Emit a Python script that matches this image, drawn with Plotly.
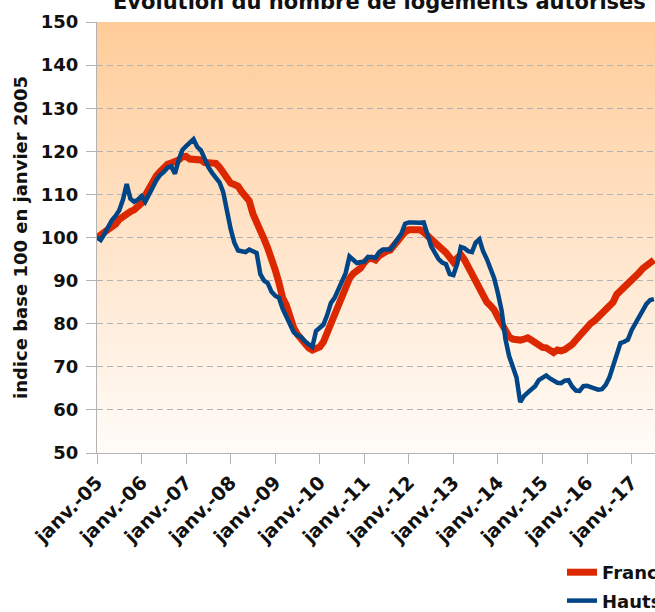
import base64
import plotly.graph_objects as go

# ---- data (monthly index, January 2005 = 100) ----
tick_labels = ["janv.-05", "janv.-06", "janv.-07", "janv.-08", "janv.-09", "janv.-10",
               "janv.-11", "janv.-12", "janv.-13", "janv.-14", "janv.-15", "janv.-16",
               "janv.-17"]

france = [
    100, 100.6, 101.3, 101.9, 102.5, 103.1, 104.2, 104.9, 105.5, 106, 106.4, 107,          # 2005
    108, 109.8, 111.4, 112.8, 114.3, 115.3, 116.3, 117, 117.3, 117.5, 118, 118.7,          # 2006
    118.8, 118.2, 118.2, 118.4, 118, 117.4, 117.3, 117.3, 117.2, 116.3, 115, 113.3,        # 2007
    112.6, 112.3, 111.9, 110.6, 109.6, 108.5, 105.5, 103.2, 101.5, 99.6, 97.5, 95.5,       # 2008
    92.5, 89.5, 86, 84.3, 81.5, 79, 77.5, 76.3, 75.3, 74.4, 73.9, 74.2,                    # 2009
    74.6, 75.8, 78, 80.3, 82.6, 85, 87, 88.8, 90.5, 91.6, 92.3, 92.9,                      # 2010
    94.2, 95, 95.2, 94.8, 95.8, 96.5, 96.8, 97.1, 98.2, 99.2, 100.4, 101.3,                # 2011
    101.8, 101.8, 101.7, 101.8, 101.2, 100.5, 99.6, 98.6, 97.9, 97.3, 96.5, 95.4,          # 2012
    94.3, 95.2, 96, 94.8, 93.2, 91.5, 89.8, 88, 86.2, 85, 84.2, 83.2,                      # 2013
    81.5, 80, 78.3, 77, 76.4, 76.2, 76.2, 76.4, 76.7, 76.2, 75.6, 74.8,                    # 2014
    74.5, 74.4, 73.6, 73.3, 73.9, 73.7, 74, 74.5, 75.2, 76.2, 77.3, 78.5,                  # 2015
    79.5, 80.1, 80.7, 81.5, 82.8, 83.5, 84, 85, 86.8, 87.6, 88.6, 89.3,                    # 2016
    90, 90.5, 91.8, 92.8, 93.4, 94.2, 94.8,                                                # 2017
]

hauts_de_france = [
    100, 99.4, 100.8, 102.6, 104, 105, 106.3, 108.8, 112.4, 109, 108.3, 108.8,             # 2005
    109.6, 108.3, 110.2, 111.6, 113.3, 114.5, 115.2, 116.2, 116.5, 114.8, 118, 120.3,      # 2006
    121.2, 121.9, 122.8, 121, 120.2, 118.3, 116.3, 115, 113.8, 112.8, 110.5, 105.5,        # 2007
    102, 98.8, 97, 96.8, 96.6, 97.2, 96.8, 96.4, 91.5, 90, 89.4, 87.4,                     # 2008
    86.5, 86, 83.5, 81.5, 79.6, 78, 77.3, 76.9, 75.9, 75.3, 74.6, 78.3,                    # 2009
    79, 79.8, 82, 84.8, 86, 88, 90, 91.8, 95.6, 95, 94.1, 94.3,                            # 2010
    94.4, 95.5, 95.4, 95.3, 96.6, 97.2, 97.2, 97.2, 98.4, 99.7, 100.9, 103.2,              # 2011
    103.5, 103.5, 103.4, 103.4, 103.5, 100.8, 98, 96.5, 95, 94.2, 93.8, 91.5,              # 2012
    91.3, 93.8, 97.8, 97.5, 96.8, 96.6, 98.8, 99.6, 96.8, 95, 92.9, 90.5,                  # 2013
    87, 83, 76.5, 72.5, 70, 67.5, 61.8, 63.2, 64, 64.8, 65.5, 66.9,                        # 2014
    67.6, 68, 67.3, 66.8, 66.3, 66.2, 66.8, 66.9, 65.4, 64.5, 64.4, 65.5,                  # 2015
    65.6, 65.3, 65, 64.7, 64.8, 65.8, 67.5, 70, 72.8, 75.5, 75.8, 76.3,                    # 2016
    78.5, 80, 81.4, 83, 84.6, 85.5, 85.7,                                                  # 2017
]

series_names = ["France", "Hauts-de-France"]
month_index = list(range(len(france)))
tick_positions = month_index[::12][:len(tick_labels)]

FONT = "DejaVu Sans"
GRID = "#B3B3B3"
TXT = "#111111"

# vertical peach -> white gradient for the plot background
svg = ('<svg xmlns="http://www.w3.org/2000/svg" width="10" height="100" preserveAspectRatio="none">'
       '<defs><linearGradient id="g" x1="0" y1="0" x2="0" y2="1">'
       '<stop offset="0" stop-color="#FFCC99"/><stop offset="1" stop-color="#FFFCF9"/>'
       '</linearGradient></defs><rect width="10" height="100" fill="url(#g)"/></svg>')
bg_src = "data:image/svg+xml;base64," + base64.b64encode(svg.encode()).decode()

W, H = 655, 612
L, T, B = 97, 22, 159
plot_h = H - T - B

fig = go.Figure()
fig.add_trace(go.Scatter(x=month_index, y=france, mode="lines", name=series_names[0],
                         legendgroup="a", line=dict(color="#DC2800", width=7)))
fig.add_trace(go.Scatter(x=month_index, y=hauts_de_france, mode="lines", name=series_names[1],
                         legendgroup="b", line=dict(color="#004586", width=4.5)))

fig.update_layout(
    width=W, height=H,
    margin=dict(l=L, r=0, t=T, b=B, autoexpand=False),
    paper_bgcolor="white", plot_bgcolor="rgba(0,0,0,0)",
    font=dict(family=FONT, color=TXT),
    images=[dict(source=bg_src, xref="paper", yref="paper", x=0, y=1, sizex=1, sizey=1,
                 sizing="stretch", layer="below", xanchor="left", yanchor="top")],
    xaxis=dict(range=[0, 150.3], tickmode="array", tickvals=tick_positions, ticktext=tick_labels,
               tickangle=-45, ticks="outside", ticklen=10, tickcolor=GRID, showline=True,
               linecolor=GRID, linewidth=1, showgrid=False, zeroline=False,
               tickfont=dict(family=FONT, size=19, weight="bold", color=TXT)),
    yaxis=dict(range=[50, 150], dtick=10, tick0=50, ticks="outside", ticklen=10, tickcolor=GRID,
               showline=True, linecolor=GRID, linewidth=1, showgrid=True, gridcolor=GRID,
               griddash="6px,4px", gridwidth=1, zeroline=False, ticklabelstandoff=4,
               tickfont=dict(family=FONT, size=18, weight="bold", color=TXT),
               title=dict(text="indice base 100 en janvier 2005", standoff=8,
                          font=dict(family=FONT, size=18, weight="bold", color=TXT))),
    legend=dict(xref="container", yref="container", x=562 / W, y=1 - 554 / H,
                xanchor="left", yanchor="top", orientation="v", tracegroupgap=2,
                bgcolor="rgba(0,0,0,0)",
                font=dict(family=FONT, size=18, weight="bold", color=TXT)),
    annotations=[dict(text="Évolution du nombre de logements autorisés", xref="paper", yref="paper",
                      x=(379 - L) / (W - L), y=(H - B - 16) / plot_h, xanchor="center",
                      yanchor="bottom", showarrow=False,
                      font=dict(family=FONT, size=21, weight="bold", color=TXT))],
)

fig.write_html(
    "out.html",
    config={"displayModeBar": False},
    post_script="document.body.style.margin='0';document.body.style.overflow='hidden';"
                "document.documentElement.style.overflow='hidden';",
)
